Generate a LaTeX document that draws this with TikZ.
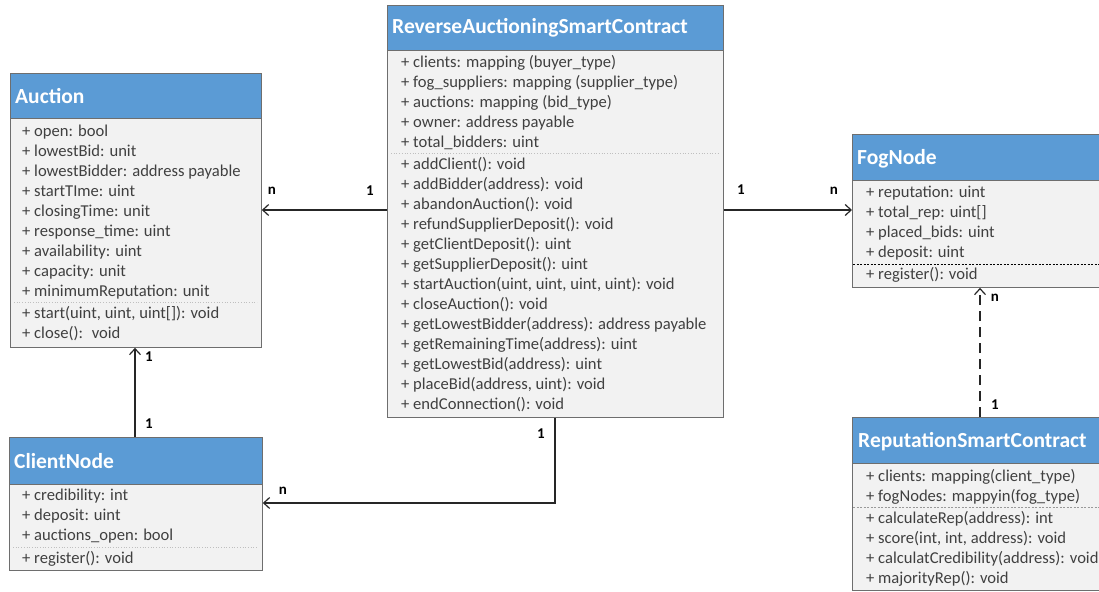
\documentclass[tikz,border=0pt]{standalone}
\usepackage{fontspec}
\setmainfont{Carlito}
\usetikzlibrary{arrows.meta}
\definecolor{hdrblue}{HTML}{5B9BD5}
\definecolor{bodygray}{HTML}{F2F2F2}
\definecolor{edgegray}{HTML}{6E6E6E}
\definecolor{txtgray}{HTML}{404040}
\definecolor{sepgray}{HTML}{BFBFBF}
\tikzset{
 cls/.style={draw=edgegray, fill=bodygray, line width=0.8pt, inner sep=0, anchor=north west},
 hdr/.style={draw=edgegray, fill=hdrblue, line width=0.8pt, inner sep=0, anchor=north west},
 hdrtxt/.style={text=white, font=\fontsize{21.5}{24}\selectfont\bfseries, anchor=base west, inner sep=0},
 attr/.style={text=txtgray, font=\fontsize{16.6}{18}\selectfont, anchor=base west, inner sep=0},
 lbl/.style={font=\fontsize{15}{16}\selectfont\bfseries, inner sep=0},
 assoc/.style={draw=black!85, line width=1.4pt, -{Straight Barb[length=6pt,width=11pt,line width=1.2pt]}},
 sepdot/.style={draw=sepgray, dotted, line width=0.7pt},
 sepdash/.style={draw=black, dash pattern=on 2pt off 1.5pt, line width=0.7pt},
 sepgdash/.style={draw=sepgray!80!black, dash pattern=on 2pt off 1.5pt, line width=0.7pt},
}
\newcommand\classrows[4]{\foreach \rowtext [count=\i from 0] in {#4} {\node[attr] (#1\i) at (#2,{#3+5.5+20*\i}) {\rowtext};}}
\begin{document}
\begin{tikzpicture}[x=1pt,y=-1pt]
\useasboundingbox (0,0) rectangle (1099,591);
\clip (0,0) rectangle (1099,591);
% Auction
\node[cls, minimum width=251pt, minimum height=274pt] (auction) at (10,73) {};
\node[hdr, minimum width=251pt, minimum height=45pt] (auctionH) at (10,73) {};
\node[hdrtxt] (auctionT) at (15,103) {Auction};
\draw[sepdot] (14,302) -- (257,302);
\classrows{auctionA}{22}{131}{+ open: bool, + lowestBid: unit, + lowestBidder: address payable, + startTIme: uint, + closingTime: unit, + response\_time: uint, + availability: uint, + capacity: unit, + minimumReputation: unit}
\classrows{auctionM}{22}{313}{{+ start(uint, uint, uint[]): void}, + close():~ void}
% ClientNode
\node[cls, minimum width=253pt, minimum height=133pt] (client) at (9,437) {};
\node[hdr, minimum width=253pt, minimum height=47pt] (clientH) at (9,437) {};
\node[hdrtxt] (clientT) at (14,468) {ClientNode};
\draw[sepdot] (13,547) -- (258,547);
\classrows{clientA}{22}{495}{+ credibility: int, + deposit: uint, + auctions\_open: bool}
\classrows{clientM}{22}{558}{+ register(): void}
% Reverse auctioning smart contract
\node[cls, minimum width=336pt, minimum height=412pt] (rsc) at (387,5) {};
\node[hdr, minimum width=336pt, minimum height=45pt] (rscH) at (387,5) {};
\node[hdrtxt] (rscT) at (392,34) {ReverseAuctioningSmartContract};
\draw[sepdot] (391,153) -- (719,153);
\classrows{rscA}{401}{62}{+ clients: mapping (buyer\_type), + fog\_suppliers: mapping (supplier\_type), + auctions: mapping (bid\_type), + owner: address payable, + total\_bidders: uint}
\classrows{rscM}{401}{164}{+ addClient(): void, + addBidder(address): void, + abandonAuction(): void, + refundSupplierDeposit(): void, + getClientDeposit(): uint, + getSupplierDeposit(): uint, {+ startAuction(uint, uint, uint, uint): void}, + closeAuction(): void, + getLowestBidder(address): address payable, + getRemainingTime(address): uint, + getLowestBid(address): uint, {+ placeBid(address, uint): void}, + endConnection(): void}
% FogNode
\node[cls, minimum width=253pt, minimum height=153pt] (fog) at (852,134) {};
\node[hdr, minimum width=253pt, minimum height=46pt] (fogH) at (852,134) {};
\node[hdrtxt] (fogT) at (857,164) {FogNode};
\draw[sepdash] (853,264) -- (1099,264);
\classrows{fogA}{866}{192}{+ reputation: uint, + total\_rep: uint[], + placed\_bids: uint, + deposit: uint}
\classrows{fogM}{866}{274}{+ register(): void}
% ReputationSmartContract
\node[cls, minimum width=253pt, minimum height=173pt] (rep) at (852,417) {};
\node[hdr, minimum width=253pt, minimum height=46pt] (repH) at (852,417) {};
\node[hdrtxt] (repT) at (858,447) {ReputationSmartContract};
\draw[sepgdash] (853,507) -- (1099,507);
\classrows{repA}{866}{476}{+ clients: mapping(client\_type), + fogNodes: mappyin(fog\_type)}
\classrows{repM}{866}{518}{+ calculateRep(address): int, {+ score(int, int, address): void}, + calculatCredibility(address): void, + majorityRep(): void}
% connectors
\coordinate (midY) at (0,210);
\draw[assoc] (rsc.west |- midY) -- (auction.east |- midY);
\draw[assoc] (rsc.east |- midY) -- (fog.west |- midY);
\coordinate (cx) at (135,0);
\draw[assoc] (client.north -| cx) -- (auction.south -| cx);
\coordinate (bend) at (555,503);
\draw[assoc] (rsc.south -| bend) |- (client.east |- bend);
\coordinate (rx) at (980,0);
\draw[assoc, dash pattern=on 10pt off 6pt] (rep.north -| rx) -- (fog.south -| rx);
% multiplicities
\node[lbl] (m1) at (272,191) {n};
\node[lbl] (m2) at (370,191) {1};
\node[lbl] (m3) at (741,190) {1};
\node[lbl] (m4) at (834,191) {n};
\node[lbl] (m5) at (149,357) {1};
\node[lbl] (m6) at (149,424) {1};
\node[lbl] (m7) at (541,434) {1};
\node[lbl] (m8) at (283,491) {n};
\node[lbl] (m9) at (995,298) {n};
\node[lbl] (m10) at (995,405) {1};
\end{tikzpicture}
\end{document}
